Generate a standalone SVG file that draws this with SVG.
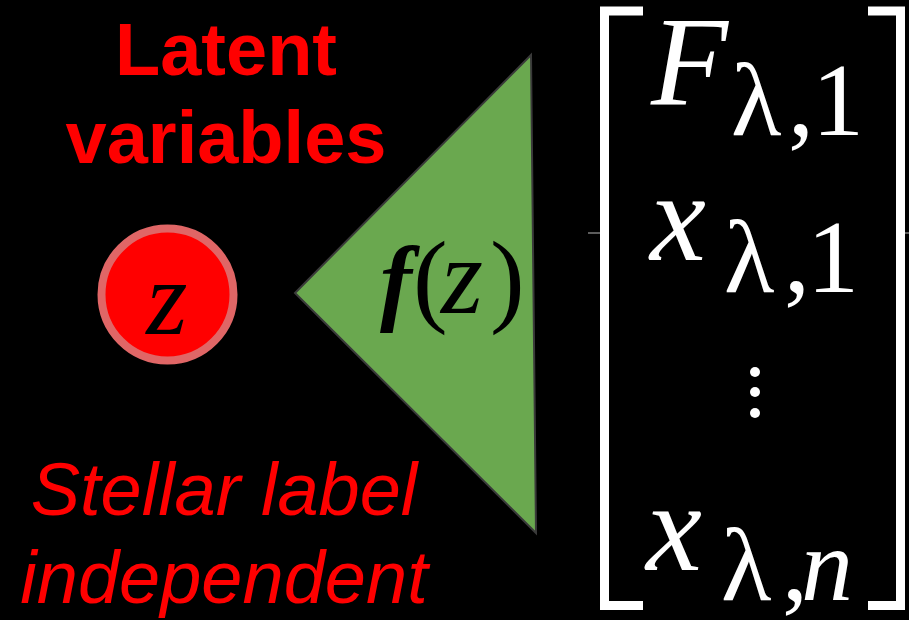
<svg xmlns="http://www.w3.org/2000/svg" width="909" height="620" viewBox="0 0 909 620">
<style>
.lab{font-family:"Liberation Sans",Arial,sans-serif;fill:#ff0000;font-size:74px;text-anchor:middle}
.math{font-family:"Liberation Serif","Times New Roman",serif;fill:#ffffff}
.it{font-style:italic}
.sub{font-size:104px}
.main{font-size:126px}
.brk{fill:none;stroke:#ffffff;stroke-width:9;stroke-linejoin:miter;stroke-linecap:butt}
.thin{stroke:#9a9a9a;stroke-width:1.2}
.blk{font-family:"Liberation Serif","Times New Roman",serif;fill:#000000}
</style>
<rect x="0" y="0" width="909" height="620" fill="#000000"/>
<g id="labels">
<text class="lab" x="226" y="75" font-weight="bold">Latent</text>
<text class="lab" x="226" y="163" font-weight="bold">variables</text>
<text class="lab" x="224" y="515" font-style="italic">Stellar label</text>
<text class="lab" x="224" y="603" font-style="italic">independent</text>
</g>
<g id="node-z">
<circle cx="167.5" cy="294.5" r="66" fill="#ff0000" stroke="#e06666" stroke-width="8"/>
<text class="blk it" x="167" y="334" font-size="106" text-anchor="middle">z</text>
</g>
<g id="node-f">
<polygon points="295,293 531,55 536,533" fill="#6aa84f" stroke="#3a3a3a" stroke-width="2"/>
<text class="blk" y="313" font-size="96"><tspan x="380" font-weight="bold" font-style="italic">f</tspan><tspan x="413" font-size="104">(</tspan><tspan x="441" font-style="italic" font-size="108">z</tspan><tspan x="490" font-size="104">)</tspan></text>
</g>
<g id="node-vector">
<line class="thin" x1="588" y1="233" x2="600" y2="233"/>
<line class="thin" x1="904" y1="233" x2="909" y2="233"/>
<polyline class="brk" points="643,11 604.5,11 604.5,605.5 643,605.5"/>
<polyline class="brk" points="868,11 900.5,11 900.5,605.5 868,605.5"/>
<text class="math" y="104"><tspan class="main it" x="651">F</tspan></text>
<text class="math sub" y="135"><tspan x="731">λ</tspan><tspan x="788">,</tspan><tspan x="812">1</tspan></text>
<text class="math main it" x="650" y="260">x</text>
<text class="math sub" y="292"><tspan x="724">λ</tspan><tspan x="784">,</tspan><tspan x="807">1</tspan></text>
<circle cx="755" cy="372" r="5" fill="#ffffff"/>
<circle cx="755" cy="392" r="5" fill="#ffffff"/>
<circle cx="755" cy="413" r="5" fill="#ffffff"/>
<text class="math main it" x="646" y="570">x</text>
<text class="math sub" y="600"><tspan x="721">λ</tspan><tspan x="782">,</tspan><tspan class="it" x="801">n</tspan></text>
</g>
<g id="connectors"></g>
</svg>
